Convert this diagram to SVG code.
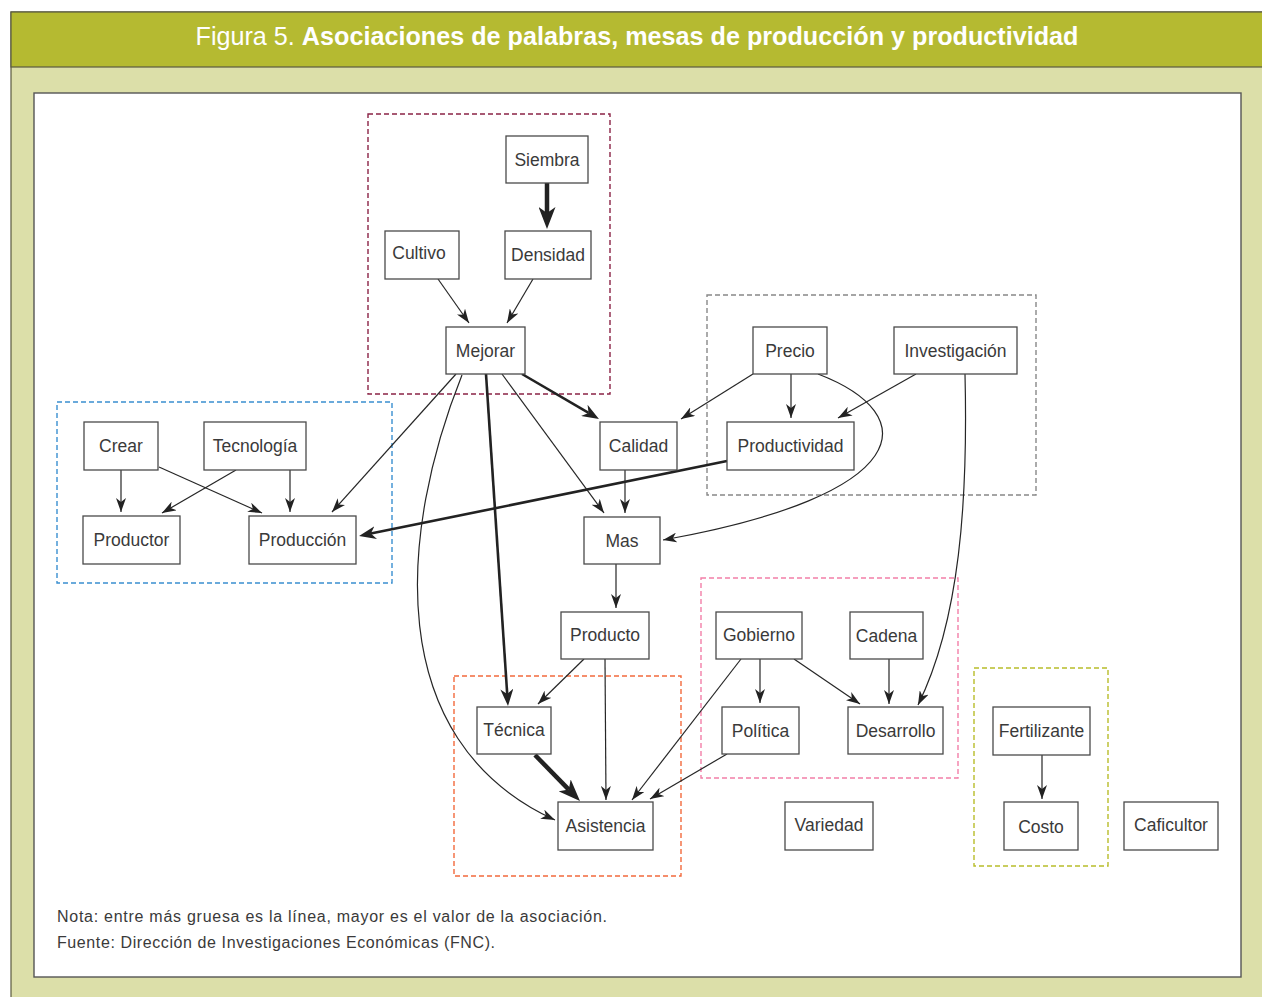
<svg xmlns="http://www.w3.org/2000/svg" width="1262" height="997" viewBox="0 0 1262 997">
<style>
.nb{fill:#fff;stroke:#4a4a4a;stroke-width:1.3}
.nt{font-family:"Liberation Sans",Arial,sans-serif;font-size:17.5px;fill:#3a3a3a;text-anchor:middle}
.grp{fill:none;stroke-width:1.4;stroke-dasharray:5 3}
.c{fill:none;stroke:#262626;stroke-width:1.2}
.cm{fill:none;stroke:#222;stroke-width:2.6}
.ck{fill:none;stroke:#222;stroke-width:4.5}
.note{font-family:"Liberation Sans",Arial,sans-serif;font-size:16px;fill:#3a3a3a}
</style>
<defs>
<marker id="a" markerUnits="userSpaceOnUse" viewBox="0 0 14 10" markerWidth="14" markerHeight="10" refX="14" refY="5" orient="auto"><path d="M0,0 L14,5 L0,10 L4,5 z" fill="#222"/></marker>
<marker id="am" markerUnits="userSpaceOnUse" viewBox="0 0 17 13" markerWidth="17" markerHeight="13" refX="5" refY="6.5" orient="auto"><path d="M0,0 L17,6.5 L0,13 L5,6.5 z" fill="#222"/></marker>
<marker id="ak" markerUnits="userSpaceOnUse" viewBox="0 0 22 17" markerWidth="22" markerHeight="17" refX="6" refY="8.5" orient="auto"><path d="M0,0 L22,8.5 L0,17 L6,8.5 z" fill="#222"/></marker>
</defs>
<rect x="0" y="0" width="1262" height="997" fill="#fff"/>
<rect x="11" y="12" width="1260" height="990" fill="#dcdfa9" stroke="#5a5a40" stroke-width="1.2"/>
<rect x="11" y="12" width="1260" height="55" fill="#b5ba31" stroke="#5a5a40" stroke-width="1.2"/>
<text x="637" y="45" font-family="'Liberation Sans',Arial,sans-serif" font-size="25" fill="#fff" text-anchor="middle" textLength="883" lengthAdjust="spacingAndGlyphs"><tspan font-weight="normal">Figura 5. </tspan><tspan font-weight="bold">Asociaciones de palabras, mesas de producción y productividad</tspan></text>
<rect x="34" y="93" width="1207" height="884" fill="#fff" stroke="#555" stroke-width="1.4"/>

<g id="groups">
<rect class="grp" x="368" y="114" width="242" height="280" stroke="#8b2346"/>
<rect class="grp" x="57" y="402" width="335" height="181" stroke="#3a8fd0"/>
<rect class="grp" x="707" y="295" width="329" height="200" stroke="#888"/>
<rect class="grp" x="454" y="676" width="227" height="200" stroke="#f26a3c"/>
<rect class="grp" x="701" y="578" width="257" height="200" stroke="#f27fa8"/>
<rect class="grp" x="974" y="668" width="134" height="198" stroke="#b8bd2a"/>
</g>

<g id="connectors">
<line class="c" x1="438" y1="279" x2="469" y2="323" marker-end="url(#a)"/>
<line class="c" x1="533" y1="279" x2="507" y2="323" marker-end="url(#a)"/>
<line class="ck" x1="547" y1="183" x2="547" y2="213" marker-end="url(#ak)"/>
<line class="c" x1="121" y1="470" x2="121" y2="512" marker-end="url(#a)"/>
<line class="c" x1="159" y1="467" x2="262" y2="513" marker-end="url(#a)"/>
<line class="c" x1="236" y1="470" x2="162" y2="513" marker-end="url(#a)"/>
<line class="c" x1="290" y1="470" x2="290" y2="512" marker-end="url(#a)"/>
<line class="c" x1="456" y1="374" x2="332" y2="512" marker-end="url(#a)"/>
<line class="cm" x1="727" y1="461" x2="370.8" y2="533.6" marker-end="url(#am)"/>
<line class="cm" x1="522" y1="374" x2="588.6" y2="412.9" marker-end="url(#am)"/>
<line class="c" x1="502" y1="374" x2="604" y2="513" marker-end="url(#a)"/>
<line class="cm" x1="486" y1="374" x2="507.2" y2="694" marker-end="url(#am)"/>
<path class="c" d="M462,375 C400,530 380,740 555,820" marker-end="url(#a)"/>
<line class="c" x1="753" y1="374" x2="681" y2="419" marker-end="url(#a)"/>
<line class="c" x1="791" y1="374" x2="791" y2="418" marker-end="url(#a)"/>
<line class="c" x1="916" y1="374" x2="838" y2="418" marker-end="url(#a)"/>
<path class="c" d="M818,374 C925,415 915,495 663,540" marker-end="url(#a)"/>
<path class="c" d="M965,374 C968,500 960,620 918,705" marker-end="url(#a)"/>
<line class="c" x1="625" y1="470" x2="625" y2="513" marker-end="url(#a)"/>
<line class="c" x1="616" y1="564" x2="616" y2="608" marker-end="url(#a)"/>
<line class="c" x1="584" y1="659" x2="538" y2="704" marker-end="url(#a)"/>
<line class="c" x1="605" y1="659" x2="606" y2="800" marker-end="url(#a)"/>
<line class="ck" x1="535" y1="755" x2="568.8" y2="789.6" marker-end="url(#ak)"/>
<line class="c" x1="741" y1="659" x2="632" y2="800" marker-end="url(#a)"/>
<line class="c" x1="727" y1="754" x2="650" y2="799" marker-end="url(#a)"/>
<line class="c" x1="760" y1="659" x2="760" y2="703" marker-end="url(#a)"/>
<line class="c" x1="794" y1="659" x2="860" y2="704" marker-end="url(#a)"/>
<line class="c" x1="889" y1="659" x2="889" y2="704" marker-end="url(#a)"/>
<line class="c" x1="1042" y1="755" x2="1042" y2="799" marker-end="url(#a)"/>
</g>

<g id="n-siembra"><rect class="nb" x="506" y="136" width="82" height="47"/><text class="nt" x="547" y="165.5">Siembra</text></g>
<g id="n-cultivo"><rect class="nb" x="385" y="231" width="74" height="48"/><text class="nt" x="419" y="259">Cultivo</text></g>
<g id="n-densidad"><rect class="nb" x="505" y="231" width="86" height="48"/><text class="nt" x="548" y="261">Densidad</text></g>
<g id="n-mejorar"><rect class="nb" x="446" y="327" width="79" height="47"/><text class="nt" x="485.5" y="356.5">Mejorar</text></g>
<g id="n-crear"><rect class="nb" x="84" y="422" width="74" height="48"/><text class="nt" x="121" y="452">Crear</text></g>
<g id="n-tecnologia"><rect class="nb" x="204" y="422" width="102" height="48"/><text class="nt" x="255" y="452">Tecnología</text></g>
<g id="n-productor"><rect class="nb" x="83" y="516" width="97" height="48"/><text class="nt" x="131.5" y="546">Productor</text></g>
<g id="n-produccion"><rect class="nb" x="249" y="516" width="107" height="48"/><text class="nt" x="302.5" y="546">Producción</text></g>
<g id="n-precio"><rect class="nb" x="753" y="327" width="74" height="47"/><text class="nt" x="790" y="356.5">Precio</text></g>
<g id="n-investigacion"><rect class="nb" x="894" y="327" width="123" height="47"/><text class="nt" x="955.5" y="356.5">Investigación</text></g>
<g id="n-calidad"><rect class="nb" x="600" y="422" width="77" height="48"/><text class="nt" x="638.5" y="452">Calidad</text></g>
<g id="n-productividad"><rect class="nb" x="727" y="422" width="127" height="48"/><text class="nt" x="790.5" y="452">Productividad</text></g>
<g id="n-mas"><rect class="nb" x="584" y="517" width="76" height="47"/><text class="nt" x="622" y="546.5">Mas</text></g>
<g id="n-producto"><rect class="nb" x="561" y="612" width="88" height="47"/><text class="nt" x="605" y="641">Producto</text></g>
<g id="n-tecnica"><rect class="nb" x="477" y="707" width="74" height="47"/><text class="nt" x="514" y="736">Técnica</text></g>
<g id="n-asistencia"><rect class="nb" x="558" y="802" width="95" height="48"/><text class="nt" x="605.5" y="832">Asistencia</text></g>
<g id="n-gobierno"><rect class="nb" x="716" y="612" width="86" height="47"/><text class="nt" x="759" y="641">Gobierno</text></g>
<g id="n-cadena"><rect class="nb" x="850" y="612" width="73" height="47"/><text class="nt" x="886.5" y="642">Cadena</text></g>
<g id="n-politica"><rect class="nb" x="722" y="707" width="77" height="47"/><text class="nt" x="760.5" y="737">Política</text></g>
<g id="n-desarrollo"><rect class="nb" x="848" y="707" width="95" height="47"/><text class="nt" x="895.5" y="737">Desarrollo</text></g>
<g id="n-fertilizante"><rect class="nb" x="993" y="707" width="97" height="48"/><text class="nt" x="1041.5" y="737">Fertilizante</text></g>
<g id="n-costo"><rect class="nb" x="1004" y="802" width="74" height="48"/><text class="nt" x="1041" y="833">Costo</text></g>
<g id="n-variedad"><rect class="nb" x="785" y="802" width="88" height="48"/><text class="nt" x="829" y="831">Variedad</text></g>
<g id="n-caficultor"><rect class="nb" x="1124" y="802" width="94" height="48"/><text class="nt" x="1171" y="831">Caficultor</text></g>

<text class="note" x="57" y="922" textLength="550" lengthAdjust="spacing">Nota: entre más gruesa es la línea, mayor es el valor de la asociación.</text>
<text class="note" x="57" y="948" textLength="438" lengthAdjust="spacing">Fuente: Dirección de Investigaciones Económicas (FNC).</text>
</svg>
